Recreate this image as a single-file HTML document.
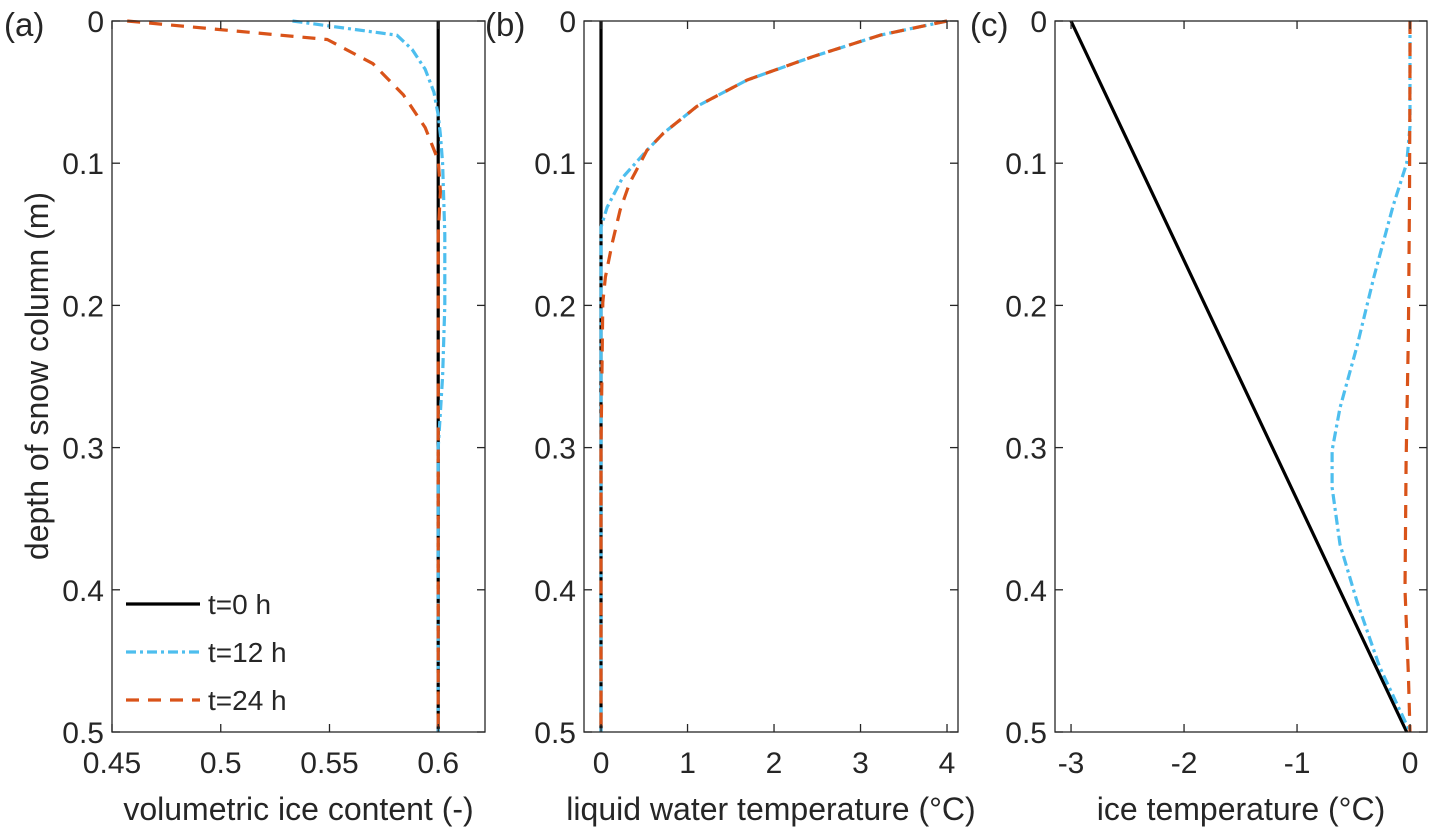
<!DOCTYPE html>
<html><head><meta charset="utf-8"><style>
body{margin:0;background:#fff;}
svg text{font-family:"Liberation Sans",Arial,sans-serif;fill:#262626;}
</style></head><body>
<svg id="fig" width="1432" height="832" viewBox="0 0 1432 832" xmlns="http://www.w3.org/2000/svg"></svg>
<script>
// shared depth axis
const yTicks = [0, 0.1, 0.2, 0.3, 0.4, 0.5];
const yTickLabels = ['0', '0.1', '0.2', '0.3', '0.4', '0.5'];
// panel a: volumetric ice content
const aTicks = [0.45, 0.5, 0.55, 0.6];
const aTickLabels = ['0.45', '0.5', '0.55', '0.6'];
const aDepth0 = [0, 0.5];
const aIce0 = [0.6, 0.6];
const aDepth12 = [0, 0.01, 0.02, 0.034, 0.05, 0.066, 0.08, 0.1, 0.15, 0.2, 0.25, 0.3, 0.5];
const aIce12 = [0.533, 0.581, 0.588, 0.594, 0.598, 0.6, 0.601, 0.602, 0.603, 0.603, 0.602, 0.6, 0.6];
const aDepth24 = [0, 0.013, 0.03, 0.052, 0.075, 0.098, 0.12, 0.15, 0.5];
const aIce24 = [0.457, 0.549, 0.57, 0.584, 0.594, 0.6, 0.601, 0.6, 0.6];
// panel b: liquid water temperature
const bTicks = [0, 1, 2, 3, 4];
const bTickLabels = ['0', '1', '2', '3', '4'];
const bDepth0 = [0, 0.5];
const bTemp0 = [0, 0];
const bDepth12 = [0, 0.0099, 0.025, 0.0415, 0.06, 0.079, 0.091, 0.11, 0.131, 0.145, 0.2, 0.5];
const bTemp12 = [4, 3.23, 2.45, 1.69, 1.11, 0.72, 0.53, 0.25, 0.07, 0.0, 0.0, 0.0];
const bDepth24 = [0, 0.0099, 0.025, 0.0415, 0.06, 0.079, 0.091, 0.114, 0.133, 0.156, 0.18, 0.198, 0.25, 0.3, 0.5];
const bTemp24 = [4, 3.23, 2.45, 1.69, 1.11, 0.72, 0.53, 0.33, 0.22, 0.13, 0.05, 0.02, 0.01, 0.0, 0.0];
// panel c: ice temperature
const cTicks = [-3, -2, -1, 0];
const cTickLabels = ['-3', '-2', '-1', '0'];
const cDepth0 = [0, 0.5];
const cTemp0 = [-3, -0.03];
const cDepth12 = [0, 0.074, 0.1, 0.13, 0.18, 0.229, 0.272, 0.302, 0.328, 0.368, 0.408, 0.454, 0.5];
const cTemp12 = [0, 0, -0.03, -0.15, -0.32, -0.47, -0.62, -0.69, -0.69, -0.62, -0.47, -0.27, 0];
const cDepth24 = [0, 0.03, 0.124, 0.22, 0.31, 0.4, 0.46, 0.5];
const cTemp24 = [0, 0, -0.005, -0.015, -0.035, -0.045, -0.015, 0];

const NS = 'http://www.w3.org/2000/svg';
const svg = document.getElementById('fig');
const TOP = 21, BOT = 732;
function mk(tag, attrs, parent){const e=document.createElementNS(NS,tag);for(const k in attrs)e.setAttribute(k,attrs[k]);(parent||svg).appendChild(e);return e;}
const styles = {
  t0:{stroke:'#000',dash:null},
  t12:{stroke:'#4DBEEE',dash:'10 4 3 4'},
  t24:{stroke:'#D95319',dash:'13 9'}
};
function panel(key, L, R, xmin, xmax, ticks, tickLabels, xlabel, series, plx){
  const g = mk('g', {});
  
  
  const xs = v => L + (v - xmin) / (xmax - xmin) * (R - L);
  const ys = d => TOP + d / 0.5 * (BOT - TOP);
  series.forEach(s => {
    const pts = s.x.map((v, i) => xs(v).toFixed(1) + ',' + ys(s.y[i]).toFixed(1)).join(' ');
    const p = mk('polyline', {points: pts, fill: 'none', stroke: styles[s.k].stroke, 'stroke-width': 3.2, 'stroke-linejoin': 'round'}, g);
    if (styles[s.k].dash) p.setAttribute('stroke-dasharray', styles[s.k].dash);
    
    
  });
  const box = mk('rect', {x: L, y: TOP, width: R - L, height: BOT - TOP, fill: 'none', stroke: '#262626', 'stroke-width': 1.3}, g);
  
  
  ticks.forEach((t, i) => {
    const x = xs(t);
    mk('line', {x1: x, x2: x, y1: BOT, y2: BOT - 8, stroke: '#262626', 'stroke-width': 1.3}, g);
    mk('line', {x1: x, x2: x, y1: TOP, y2: TOP + 8, stroke: '#262626', 'stroke-width': 1.3}, g);
    const tx = mk('text', {x: x, y: 773, 'font-size': 30, 'text-anchor': 'middle'}, g);
    tx.textContent = tickLabels[i];
    
    
  });
  yTicks.forEach((t, i) => {
    const y = ys(t);
    mk('line', {x1: L, x2: L + 8, y1: y, y2: y, stroke: '#262626', 'stroke-width': 1.3}, g);
    mk('line', {x1: R, x2: R - 8, y1: y, y2: y, stroke: '#262626', 'stroke-width': 1.3}, g);
    const tx = mk('text', {x: L - 8, y: y + 11, 'font-size': 30, 'text-anchor': 'end'}, g);
    tx.textContent = yTickLabels[i];
    
    
  });
  const xl = mk('text', {x: (L + R) / 2, y: 820, 'font-size': 32, 'text-anchor': 'middle'}, g);
  xl.textContent = xlabel;
  
  
  const pl = mk('text', {x: plx, y: 36, 'font-size': 33}, g);
  pl.textContent = '(' + key + ')';
  
  
}
panel('a', 112, 485, 0.45, 0.6215, aTicks, aTickLabels, 'volumetric ice content (-)', [
  {k:'t0', x:aIce0, y:aDepth0}, {k:'t12', x:aIce12, y:aDepth12}, {k:'t24', x:aIce24, y:aDepth24}], 4);
panel('b', 584, 958, -0.197, 4.127, bTicks, bTickLabels, 'liquid water temperature (°C)', [
  {k:'t0', x:bTemp0, y:bDepth0}, {k:'t12', x:bTemp12, y:bDepth12}, {k:'t24', x:bTemp24, y:bDepth24}], 485);
panel('c', 1055, 1427, -3.142, 0.15, cTicks, cTickLabels, 'ice temperature (°C)', [
  {k:'t0', x:cTemp0, y:cDepth0}, {k:'t12', x:cTemp12, y:cDepth12}, {k:'t24', x:cTemp24, y:cDepth24}], 970);

const yl = mk('text', {x: 0, y: 0, 'font-size': 32, 'text-anchor': 'middle', transform: 'translate(48,376) rotate(-90)'});
yl.textContent = 'depth of snow column (m)';



const legend = mk('g', {});


[['t0', 't=0 h', 604], ['t12', 't=12 h', 652], ['t24', 't=24 h', 700]].forEach(([k, lab, y]) => {
  const ln = mk('line', {x1: 126, x2: 200, y1: y, y2: y, stroke: styles[k].stroke, 'stroke-width': 3.2}, legend);
  if (styles[k].dash) ln.setAttribute('stroke-dasharray', styles[k].dash);
  
  
  const tx = mk('text', {x: 208, y: y + 10, 'font-size': 28}, legend);
  tx.textContent = lab;
  
  
});
</script>
</body></html>
